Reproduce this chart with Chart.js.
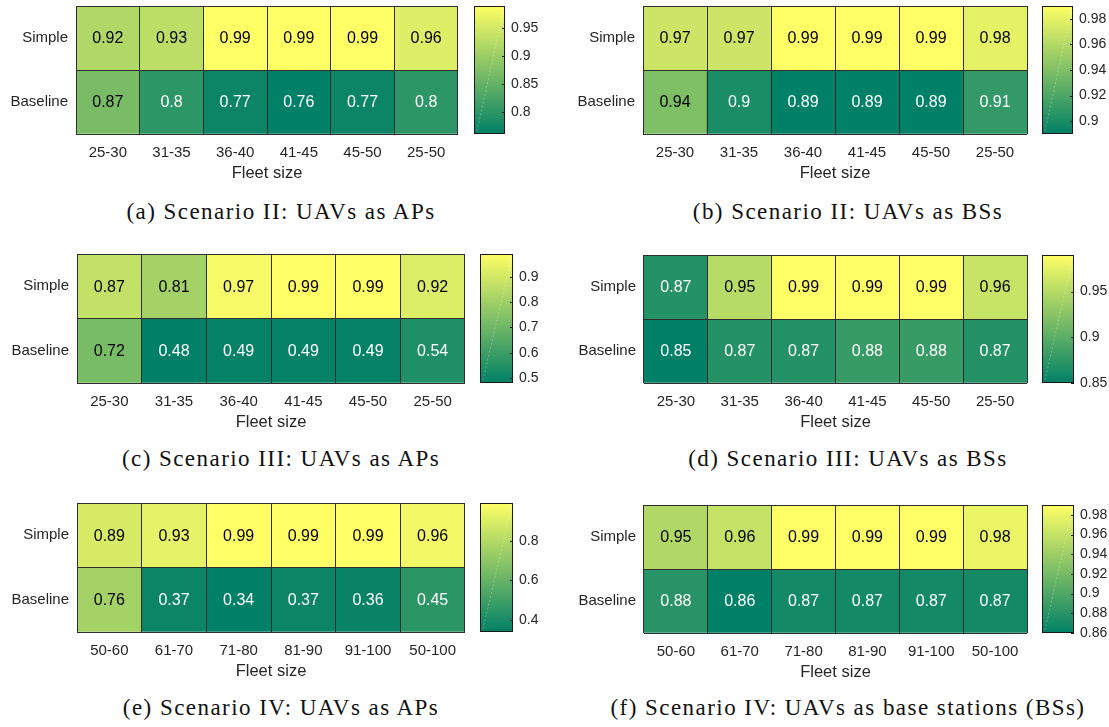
<!DOCTYPE html>
<html>
<head>
<meta charset="utf-8">
<script src="https://cdn.jsdelivr.net/npm/chart.js@4.4.1/dist/chart.umd.min.js"></script>
<style>
  html, body { margin: 0; padding: 0; background: #fff; }
  body { width: 1109px; height: 727px; position: relative; overflow: hidden; }
  canvas { position: absolute; }
  .caption {
    position: absolute;
    font-family: "Liberation Serif", serif;
    font-size: 23px;
    letter-spacing: 1.45px;
    color: #111;
    white-space: nowrap;
    transform: translate(-50%, -50%);
  }
</style>
</head>
<body>
<script>
// Fleet-size bins
const binsSmall = ['25-30', '31-35', '36-40', '41-45', '45-50', '25-50'];
const binsLarge = ['50-60', '61-70', '71-80', '81-90', '91-100', '50-100'];
const methods = ['Simple', 'Baseline'];

// Values per scenario, one array per row
const s2apSimple = [0.92, 0.93, 0.99, 0.99, 0.99, 0.96];
const s2apBaseline = [0.87, 0.8, 0.77, 0.76, 0.77, 0.8];
const s2bsSimple = [0.97, 0.97, 0.99, 0.99, 0.99, 0.98];
const s2bsBaseline = [0.94, 0.9, 0.89, 0.89, 0.89, 0.91];
const s3apSimple = [0.87, 0.81, 0.97, 0.99, 0.99, 0.92];
const s3apBaseline = [0.72, 0.48, 0.49, 0.49, 0.49, 0.54];
const s3bsSimple = [0.87, 0.95, 0.99, 0.99, 0.99, 0.96];
const s3bsBaseline = [0.85, 0.87, 0.87, 0.88, 0.88, 0.87];
const s4apSimple = [0.89, 0.93, 0.99, 0.99, 0.99, 0.96];
const s4apBaseline = [0.76, 0.37, 0.34, 0.37, 0.36, 0.45];
const s4bsSimple = [0.95, 0.96, 0.99, 0.99, 0.99, 0.98];
const s4bsBaseline = [0.88, 0.86, 0.87, 0.87, 0.87, 0.87];

// Colorbar tick labels
const s2apTicks = [0.8, 0.85, 0.9, 0.95];
const s2bsTicks = [0.9, 0.92, 0.94, 0.96, 0.98];
const s3apTicks = [0.5, 0.6, 0.7, 0.8, 0.9];
const s3bsTicks = [0.85, 0.9, 0.95];
const s4apTicks = [0.4, 0.6, 0.8];
const s4bsTicks = [0.86, 0.88, 0.9, 0.92, 0.94, 0.96, 0.98];

const textColor = '#262626';
const lineColor = '#2e2e2e';
const sans = '"Liberation Sans", Arial, sans-serif';

// Panel boxes: heatmap grid, colorbar and caption placement
const panels = [
  { bins: binsSmall, simple: s2apSimple, baseline: s2apBaseline, ticks: s2apTicks, caption: '(a) Scenario II: UAVs as APs',
    cl: 0, gridL: 76, gridR: 458, gridT: 6, gridB: 134, cbL: 474, cbR: 505, capX: 281, capY: 212 },
  { bins: binsSmall, simple: s2bsSimple, baseline: s2bsBaseline, ticks: s2bsTicks, caption: '(b) Scenario II: UAVs as BSs',
    cl: 556, gridL: 643, gridR: 1027, gridT: 6, gridB: 134, cbL: 1042, cbR: 1073, capX: 848, capY: 212 },
  { bins: binsSmall, simple: s3apSimple, baseline: s3apBaseline, ticks: s3apTicks, caption: '(c) Scenario III: UAVs as APs',
    cl: 0, gridL: 77, gridR: 465, gridT: 254, gridB: 383, cbL: 480, cbR: 513, capX: 281, capY: 459 },
  { bins: binsSmall, simple: s3bsSimple, baseline: s3bsBaseline, ticks: s3bsTicks, caption: '(d) Scenario III: UAVs as BSs',
    cl: 556, gridL: 644, gridR: 1027, gridT: 255, gridB: 383, cbL: 1042, cbR: 1074, capX: 848, capY: 459 },
  { bins: binsLarge, simple: s4apSimple, baseline: s4apBaseline, ticks: s4apTicks, caption: '(e) Scenario IV: UAVs as APs',
    cl: 0, gridL: 77, gridR: 465, gridT: 503, gridB: 632, cbL: 480, cbR: 513, capX: 281, capY: 708 },
  { bins: binsLarge, simple: s4bsSimple, baseline: s4bsBaseline, ticks: s4bsTicks, caption: '(f) Scenario IV: UAVs as base stations (BSs)',
    cl: 556, gridL: 644, gridR: 1027, gridT: 505, gridB: 633, cbL: 1042, cbR: 1074, capX: 848, capY: 708 }
];

// MATLAB "summer" colormap: green -> yellow
function summer(t) {
  t = Math.min(1, Math.max(0, t));
  return [Math.round(255 * t), Math.round(255 * (0.5 + 0.5 * t)), 102];
}
const rgb = c => `rgb(${c[0]},${c[1]},${c[2]})`;
const labelColor = c => (0.299 * c[0] + 0.587 * c[1] + 0.114 * c[2]) / 255 > 0.5 ? '#000' : '#fff';

// keep the plot area exactly where the layout puts it (no room reserved for edge labels)
const noEdgePadding = s => {
  s.paddingTop = 0;
  s.paddingBottom = 0;
  s.paddingLeft = 0;
  s.paddingRight = 0;
};

function makeCanvas(left, top, w, h) {
  const c = document.createElement('canvas');
  c.width = w;
  c.height = h;
  c.style.left = left + 'px';
  c.style.top = top + 'px';
  c.style.width = w + 'px';
  c.style.height = h + 'px';
  document.body.appendChild(c);
  return c;
}

// Writes each cell's value in the middle of its bar
const cellLabels = {
  id: 'cellLabels',
  afterDatasetsDraw(chart) {
    const ctx = chart.ctx;
    ctx.save();
    ctx.font = `16px ${sans}`;
    ctx.textAlign = 'center';
    ctx.textBaseline = 'middle';
    chart.data.datasets.forEach((ds, i) => {
      chart.getDatasetMeta(i).data.forEach((bar, j) => {
        ctx.fillStyle = ds.textColors[j];
        ctx.fillText(String(ds.values[j]), bar.x, (bar.y + bar.base) / 2 + 1);
      });
    });
    ctx.restore();
  }
};

// Frame, inner tick marks and the faint diagonal of the colorbar
const cbFrame = {
  id: 'cbFrame',
  afterDatasetsDraw(chart) {
    const { ctx, chartArea: a } = chart;
    const y = chart.scales.y;
    ctx.save();
    ctx.strokeStyle = 'rgba(255,255,255,0.35)';
    ctx.lineWidth = 0.8;
    ctx.setLineDash([2, 2]);
    ctx.beginPath();
    ctx.moveTo(a.left + 3, a.bottom - 3);
    ctx.lineTo(a.right - 1, a.top + 1);
    ctx.stroke();
    ctx.setLineDash([]);
    ctx.strokeStyle = '#1a1a1a';
    ctx.lineWidth = 1;
    ctx.strokeRect(Math.round(a.left) + 0.5, Math.round(a.top) + 0.5,
      Math.round(a.right - a.left) - 1, Math.round(a.bottom - a.top) - 1);
    ctx.beginPath();
    y.ticks.forEach(t => {
      const py = Math.round(y.getPixelForValue(t.value)) + 0.5;
      ctx.moveTo(a.right - 3, py);
      ctx.lineTo(a.right, py);
    });
    ctx.stroke();
    ctx.restore();
  }
};

function heatmap(p) {
  const top = p.gridT - 6;
  const w = p.gridR - p.cl + 8;
  const h = p.gridB - top + 49;
  const canvas = makeCanvas(p.cl, top, w, h);
  const values = [...p.simple, ...p.baseline];
  const lo = Math.min(...values), hi = Math.max(...values);
  const colorOf = v => summer((v - lo) / (hi - lo));
  const rows = [p.simple, p.baseline];

  new Chart(canvas, {
    type: 'bar',
    data: {
      labels: p.bins,
      datasets: rows.map((vals, r) => ({
        label: methods[r],
        // row r occupies one unit band, counted from the top
        data: vals.map(() => [methods.length - 1 - r, methods.length - r]),
        values: vals,
        backgroundColor: vals.map(v => rgb(colorOf(v))),
        textColors: vals.map(v => labelColor(colorOf(v)))
      }))
    },
    options: {
      responsive: false,
      animation: false,
      devicePixelRatio: 1,
      layout: { padding: { top: 6, right: 8, left: 0, bottom: 0 } },
      plugins: { legend: { display: false }, tooltip: { enabled: false } },
      datasets: { bar: { grouped: false, barPercentage: 1, categoryPercentage: 1, borderWidth: 0 } },
      scales: {
        x: {
          type: 'category',
          offset: true,
          grid: { display: true, offset: true, drawTicks: false, color: lineColor, lineWidth: 1, z: 1 },
          border: { display: false },
          ticks: { font: { family: sans, size: 15 }, color: textColor, padding: 10, maxRotation: 0, autoSkip: false },
          title: { display: true, text: 'Fleet size', font: { family: sans, size: 16.5 }, color: textColor, padding: 0 },
          afterFit: s => { s.height = 49; noEdgePadding(s); }
        },
        y: {
          type: 'linear',
          min: 0,
          max: methods.length,
          afterBuildTicks: s => { s.ticks = [0, 0.5, 1, 1.5, 2].map(v => ({ value: v })); },
          grid: {
            drawTicks: false,
            lineWidth: 1,
            z: 1,
            color: c => (c.tick && Number.isInteger(c.tick.value)) ? lineColor : 'rgba(0,0,0,0)'
          },
          border: { display: false },
          ticks: {
            font: { family: sans, size: 15 },
            color: textColor,
            padding: 8,
            callback: v => Number.isInteger(v) ? '' : methods[methods.length - 0.5 - v]
          },
          afterFit: s => { s.width = p.gridL - p.cl; noEdgePadding(s); }
        }
      }
    },
    plugins: [cellLabels]
  });
  return [lo, hi];
}

function colorbar(p, lo, hi) {
  const top = p.gridT - 6;
  const w = Math.min(80, 1109 - (p.cbL - 4));
  const h = p.gridB - p.gridT + 12;
  const canvas = makeCanvas(p.cbL - 4, top, w, h);
  const cbWidth = p.cbR - p.cbL;

  new Chart(canvas, {
    type: 'bar',
    data: {
      labels: [''],
      datasets: [{
        data: [[lo, hi]],
        backgroundColor: c => {
          const a = c.chart.chartArea;
          if (!a) return rgb(summer(0.5));
          const g = c.chart.ctx.createLinearGradient(0, a.bottom, 0, a.top);
          g.addColorStop(0, rgb(summer(0)));
          g.addColorStop(1, rgb(summer(1)));
          return g;
        }
      }]
    },
    options: {
      responsive: false,
      animation: false,
      devicePixelRatio: 1,
      layout: { padding: { top: 6, bottom: 6, left: 4, right: 0 } },
      plugins: { legend: { display: false }, tooltip: { enabled: false } },
      datasets: { bar: { barPercentage: 1, categoryPercentage: 1, borderWidth: 0 } },
      scales: {
        x: { display: false },
        y: {
          position: 'right',
          min: lo,
          max: hi,
          afterBuildTicks: s => { s.ticks = p.ticks.map(v => ({ value: v })); },
          grid: { display: false, drawTicks: false },
          border: { display: false },
          ticks: { font: { family: sans, size: 14 }, color: textColor, padding: 6, callback: v => String(v) },
          afterFit: s => { s.width = w - 4 - cbWidth; noEdgePadding(s); }
        }
      }
    },
    plugins: [cbFrame]
  });
}

panels.forEach(p => {
  const [lo, hi] = heatmap(p);
  colorbar(p, lo, hi);
  const cap = document.createElement('div');
  cap.className = 'caption';
  cap.textContent = p.caption;
  cap.style.left = p.capX + 'px';
  cap.style.top = p.capY + 'px';
  document.body.appendChild(cap);
});
</script>
</body>
</html>
